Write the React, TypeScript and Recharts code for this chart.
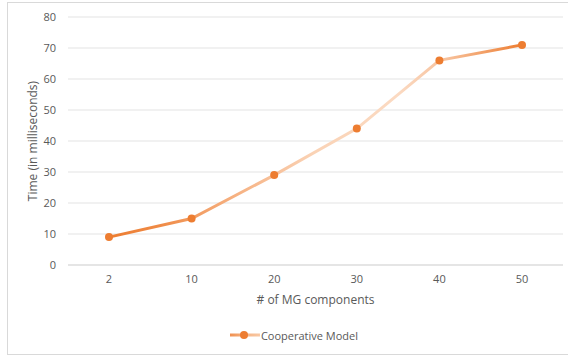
import React from 'react';
import { LineChart, Line, XAxis, YAxis, CartesianGrid } from 'recharts';

const components = ['2', '10', '20', '30', '40', '50'];
const cooperativeTimes = [9, 15, 29, 44, 66, 71];
const yTicks = [0, 10, 20, 30, 40, 50, 60, 70, 80];

const chartData = components.map((name, i) => ({ name, cooperative: cooperativeTimes[i] }));

const ORANGE = '#ED7D31';
const TEXT = '#595959';
const FONT = '"Open Sans", "Noto Sans", sans-serif';

function GradientStops() {
  return (
    <>
      <stop offset="0%" stopColor="#ED7D31" />
      <stop offset="12%" stopColor="#EF8A45" />
      <stop offset="30%" stopColor="#F6B080" />
      <stop offset="50%" stopColor="#FAD3B6" />
      <stop offset="70%" stopColor="#FBDAC2" />
      <stop offset="82%" stopColor="#F7C09A" />
      <stop offset="100%" stopColor="#ED7D31" />
    </>
  );
}

// legend drawn by hand so the plot area keeps the reference's size
function LegendBox() {
  return (
    <div
      style={{
        position: 'absolute', left: 0, top: 327, width: 588, height: 16,
        display: 'flex', alignItems: 'center', justifyContent: 'center',
        fontFamily: FONT, fontSize: 11, color: TEXT,
      }}
    >
      <svg width={30} height={10} style={{ marginRight: 1 }}>
        <defs>
          <linearGradient id="legendGrad" gradientUnits="userSpaceOnUse" x1="0" y1="0" x2="30" y2="0">
            <stop offset="0%" stopColor="#F09050" />
            <stop offset="50%" stopColor="#F6B484" />
            <stop offset="100%" stopColor="#F8C8A4" />
          </linearGradient>
        </defs>
        <rect x={0} y={3.5} width={30} height={3} fill="url(#legendGrad)" />
        <circle cx={14} cy={5} r={4} fill={ORANGE} />
      </svg>
      <span>Cooperative Model</span>
    </div>
  );
}

export default function App() {
  return (
    <div style={{ position: 'absolute', left: 0, top: 0, width: 568, height: 356, background: '#fff', overflow: 'hidden' }}>
      <div style={{ position: 'absolute', left: 7, top: 2, width: 590, height: 351, border: '1px solid #d9d9d9' }} />
      <LineChart
        width={568}
        height={356}
        data={chartData}
        margin={{ top: 17, right: 5, bottom: 51, left: 0 }}
        style={{ position: 'absolute', left: 0, top: 0 }}
      >
        <defs>
          <linearGradient id="lineGrad" x1="0" y1="0" x2="1" y2="0">
            <GradientStops />
          </linearGradient>
        </defs>
        <CartesianGrid vertical={false} stroke="#e3e3e3" />
        <XAxis
          dataKey="name"
          padding={{ left: 41, right: 41 }}
          axisLine={{ stroke: '#d9d9d9' }}
          tickLine={false}
          tickSize={0}
          tickMargin={10}
          height={40}
          tick={{ fill: TEXT, fontSize: 11, fontFamily: FONT }}
          label={{ value: '# of MG components', position: 'insideBottom', offset: 1, fill: TEXT, fontSize: 12, fontFamily: FONT }}
        />
        <YAxis
          domain={[0, 80]}
          ticks={yTicks}
          interval={0}
          width={68}
          axisLine={false}
          tickLine={false}
          tickSize={0}
          tickMargin={12}
          tick={{ fill: TEXT, fontSize: 11, fontFamily: FONT }}
          label={{ value: 'Time (in milliseconds)', angle: -90, position: 'insideLeft', offset: 33, fill: TEXT, fontSize: 12, fontFamily: FONT, style: { textAnchor: 'middle' } }}
        />
        <Line
          type="linear"
          dataKey="cooperative"
          name="Cooperative Model"
          stroke="url(#lineGrad)"
          strokeWidth={3}
          dot={{ r: 4, fill: ORANGE, stroke: ORANGE, strokeWidth: 0 }}
          activeDot={false}
          isAnimationActive={false}
        />
      </LineChart>
      <LegendBox />
    </div>
  );
}
